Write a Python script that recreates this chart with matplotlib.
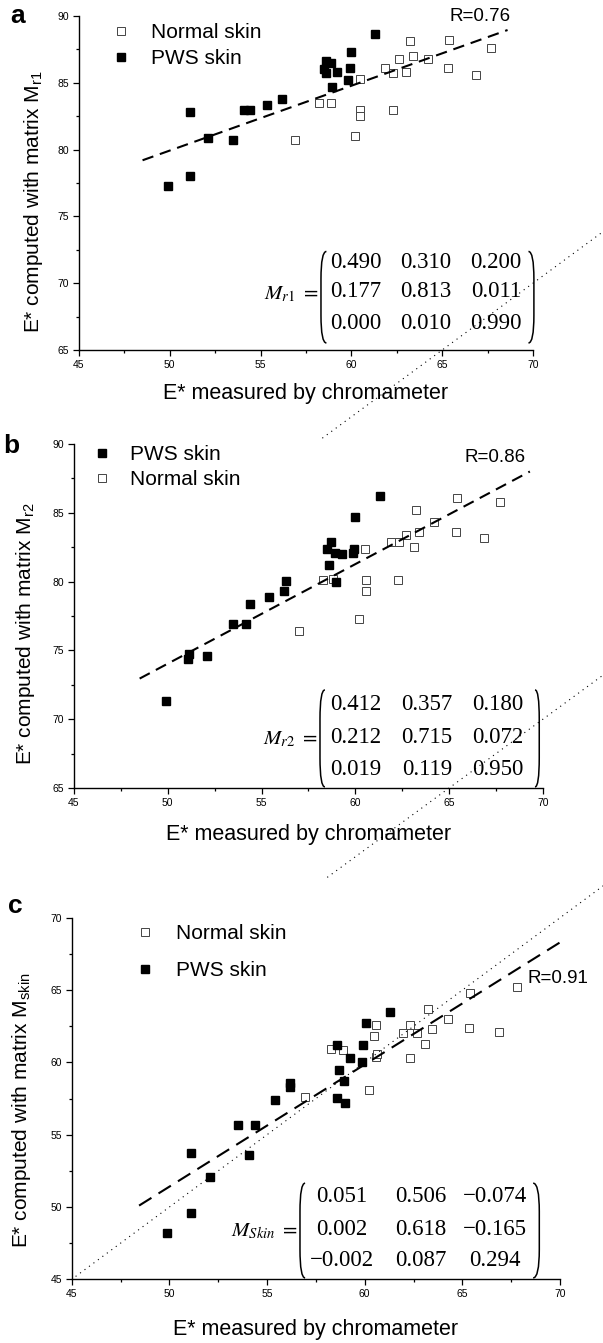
import numpy as np
import matplotlib.pyplot as plt
from matplotlib.path import Path
from matplotlib.patches import PathPatch
from matplotlib.ticker import MultipleLocator

plt.rcParams['font.family'] = ['Liberation Sans', 'DejaVu Sans']

# ---- panel a : matrix M_r1 ----
a_pws_x = [49.9, 51.1, 51.1, 52.1, 53.5, 54.1, 54.4, 55.35, 56.2, 61.3, 60.0, 58.6, 58.9, 58.5, 58.6, 59.2, 59.9, 59.8, 58.95]
a_pws_y = [77.3, 78.0, 82.8, 80.9, 80.7, 83.0, 83.0, 83.3, 83.8, 88.65, 87.3, 86.6, 86.5, 86.0, 85.7, 85.8, 86.1, 85.2, 84.7]
a_nor_x = [56.9, 58.2, 58.9, 60.5, 60.5, 60.5, 60.2, 61.85, 62.3, 62.3, 62.6, 63.0, 63.2, 63.4, 64.2, 65.4, 65.3, 66.85, 67.7]
a_nor_y = [80.7, 83.5, 83.5, 85.3, 83.0, 82.5, 81.0, 86.1, 83.0, 85.7, 86.8, 85.8, 88.15, 87.0, 86.8, 88.2, 86.1, 85.6, 87.6]
a_fit_x = [48.5, 68.6]
a_fit_y = [79.2, 88.95]
a_diag = [58.4, 80.0]
a_matrix = [['0.490', '0.310', '0.200'],
            ['0.177', '0.813', '0.011'],
            ['0.000', '0.010', '0.990']]

# ---- panel b : matrix M_r2 ----
b_pws_x = [49.9, 51.1, 51.15, 52.1, 53.5, 54.15, 54.4, 55.4, 56.2, 56.3, 61.3, 60.0, 58.7, 58.5, 58.9, 59.3, 59.85, 59.95, 58.6, 58.95]
b_pws_y = [71.3, 74.4, 74.7, 74.6, 76.9, 76.9, 78.4, 78.9, 79.3, 80.05, 86.2, 84.7, 82.85, 82.35, 82.1, 82.0, 82.05, 82.35, 81.2, 80.0]
b_nor_x = [57.0, 58.25, 58.8, 60.5, 60.55, 60.55, 60.2, 62.25, 61.9, 62.3, 62.7, 63.1, 63.4, 63.25, 64.2, 65.4, 65.35, 66.85, 67.7]
b_nor_y = [76.4, 80.1, 80.2, 82.35, 80.1, 79.3, 77.3, 80.1, 82.85, 82.85, 83.4, 82.5, 83.6, 85.2, 84.35, 86.1, 83.6, 83.15, 85.8]
b_fit_x = [48.5, 69.3]
b_fit_y = [72.95, 88.0]
b_diag = [58.5, 80.0]
b_matrix = [['0.412', '0.357', '0.180'],
            ['0.212', '0.715', '0.072'],
            ['0.019', '0.119', '0.950']]

# ---- panel c : matrix M_skin ----
c_pws_x = [49.9, 51.1, 51.1, 52.1, 53.5, 54.1, 54.4, 55.4, 56.2, 56.2, 61.3, 60.05, 58.6, 59.9, 59.25, 59.85, 58.7, 58.95, 58.6, 59.0]
c_pws_y = [48.2, 49.6, 53.75, 52.1, 55.7, 53.6, 55.65, 57.4, 58.6, 58.3, 63.5, 62.7, 61.2, 61.2, 60.3, 60.0, 59.5, 58.7, 57.55, 57.2]
c_nor_x = [56.95, 58.25, 58.9, 60.6, 60.5, 60.6, 60.65, 60.2, 62.3, 62.3, 61.95, 62.7, 63.1, 63.25, 63.45, 64.25, 65.4, 65.35, 66.9, 67.8]
c_nor_y = [57.6, 60.9, 60.85, 62.6, 61.8, 60.4, 60.6, 58.1, 62.6, 60.3, 62.0, 62.0, 61.3, 63.7, 62.3, 63.0, 64.8, 62.35, 62.1, 65.2]
c_fit_x = [48.45, 70.0]
c_fit_y = [50.1, 68.3]
c_diag = [45.2, 80.0]
c_matrix = [['0.051', '0.506', '\u22120.074'],
            ['0.002', '0.618', '\u22120.165'],
            ['\u22120.002', '0.087', '0.294']]


def paren(ax, xmid, xend, ytop, ybot):
    k = 0.3 * (ytop - ybot)
    verts = [(xend, ytop), (xmid, ytop), (xmid, ytop - k),
             (xmid, ybot + k), (xmid, ybot), (xend, ybot)]
    codes = [Path.MOVETO, Path.CURVE3, Path.CURVE3,
             Path.LINETO, Path.CURVE3, Path.CURVE3]
    ax.add_patch(PathPatch(Path(verts, codes), fill=False, lw=1.1,
                           color='black', transform=ax.transAxes, clip_on=False))


def matrix(ax, name, vals, cols, rows, lp, rp, ytop, ybot):
    for i, r in enumerate(rows):
        for j, c in enumerate(cols):
            ax.text(c, r, vals[i][j], transform=ax.transAxes, ha='center', va='center',
                    fontsize=16.5, family='Liberation Serif')
    paren(ax, lp[0], lp[1], ytop, ybot)
    paren(ax, rp[0], rp[1], ytop, ybot)
    ax.text(lp[0] - 0.004, rows[1] - 0.006, name, transform=ax.transAxes, ha='right',
            va='center', fontsize=15, math_fontfamily='stix')


def setup(ax, y0, y1):
    ax.set_xlim(45, 70)
    ax.set_ylim(y0, y1)
    for s in ['top', 'right']:
        ax.spines[s].set_visible(False)
    for s in ['left', 'bottom']:
        ax.spines[s].set_linewidth(1.0)
    ax.xaxis.set_major_locator(MultipleLocator(5))
    ax.xaxis.set_minor_locator(MultipleLocator(2.5))
    ax.yaxis.set_major_locator(MultipleLocator(5))
    ax.yaxis.set_minor_locator(MultipleLocator(2.5))
    ax.tick_params(which='major', length=4, width=0.9, labelsize=7.5, pad=3)
    ax.tick_params(which='minor', length=2.5, width=0.9)
    ax.patch.set_alpha(0)


def scatter(ax, px, py, nx, ny, order):
    h = {}
    h['n'], = ax.plot(nx, ny, 's', ms=5.2, mfc='white', mec='#444444', mew=0.7,
                      ls='none', label='Normal skin', zorder=2)
    h['p'], = ax.plot(px, py, 's', ms=5.4, color='black', ls='none',
                      label='PWS skin', zorder=3)
    return [h[k] for k in order]


fig = plt.figure(figsize=(6.03, 13.43), dpi=100)
axa = fig.add_axes([0.1310, 0.7394, 0.7529, 0.2487])
axb = fig.add_axes([0.1227, 0.4133, 0.7778, 0.2561])
axc = fig.add_axes([0.1189, 0.0474, 0.8098, 0.2692])

# panel a
setup(axa, 65, 90)
hs = scatter(axa, a_pws_x, a_pws_y, a_nor_x, a_nor_y, ['n', 'p'])
axa.plot(a_fit_x, a_fit_y, color='black', lw=1.5, dashes=(5.5, 3.3), zorder=4)
axa.plot(a_diag, a_diag, color='black', lw=0.8, dashes=(1, 4), clip_on=False)
axa.legend(handles=hs, loc='upper left', bbox_to_anchor=(0.069, 0.978), frameon=False,
           fontsize=15, borderpad=0, borderaxespad=0, handlelength=1.0,
           handletextpad=0.96, labelspacing=0.32, numpoints=1)
axa.text(65.4, 89.95, 'R=0.76', fontsize=13.5, ha='left', va='center')
axa.set_xlabel('E* measured by chromameter', fontsize=15.5)
axa.set_ylabel('E* computed with matrix M$_\\mathregular{r1}$', fontsize=15)
axa.xaxis.set_label_coords(0.5, -0.099)
axa.yaxis.set_label_coords(-0.075, 0.445)
matrix(axa, r'$M_{r1}\ =$', a_matrix, [0.610, 0.764, 0.918], [0.263, 0.174, 0.080],
       (0.533, 0.545), (1.002, 0.990), 0.295, 0.021)

# panel b
setup(axb, 65, 90)
hs = scatter(axb, b_pws_x, b_pws_y, b_nor_x, b_nor_y, ['p', 'n'])
axb.plot(b_fit_x, b_fit_y, color='black', lw=1.5, dashes=(5.5, 3.3), zorder=4)
axb.plot(b_diag, b_diag, color='black', lw=0.8, dashes=(1, 4), clip_on=False)
axb.legend(handles=hs, loc='upper left', bbox_to_anchor=(0.037, 0.997), frameon=False,
           fontsize=15, borderpad=0, borderaxespad=0, handlelength=1.0,
           handletextpad=0.86, labelspacing=0.29, numpoints=1)
axb.text(65.8, 89.0, 'R=0.86', fontsize=13.5, ha='left', va='center')
axb.set_xlabel('E* measured by chromameter', fontsize=15.5)
axb.set_ylabel('E* computed with matrix M$_\\mathregular{r2}$', fontsize=15)
axb.xaxis.set_label_coords(0.5, -0.105)
axb.yaxis.set_label_coords(-0.079, 0.449)
matrix(axb, r'$M_{r2}\ =$', b_matrix, [0.601, 0.753, 0.904], [0.244, 0.148, 0.055],
       (0.5245, 0.535), (0.992, 0.983), 0.285, 0.003)

# panel c
setup(axc, 45, 70)
hs = scatter(axc, c_pws_x, c_pws_y, c_nor_x, c_nor_y, ['n', 'p'])
axc.plot(c_fit_x, c_fit_y, color='black', lw=1.5, dashes=(7, 4), zorder=4)
axc.plot(c_diag, c_diag, color='black', lw=0.8, dashes=(1, 4), clip_on=False)
axc.legend(handles=hs, loc='upper left', bbox_to_anchor=(0.129, 0.982), frameon=False,
           fontsize=15, borderpad=0, borderaxespad=0, handlelength=1.0,
           handletextpad=0.97, labelspacing=0.85, numpoints=1)
axc.text(68.35, 65.8, 'R=0.91', fontsize=13.5, ha='left', va='center')
axc.set_xlabel('E* measured by chromameter', fontsize=15.5)
axc.set_ylabel('E* computed with matrix M$_\\mathregular{skin}$', fontsize=15)
axc.xaxis.set_label_coords(0.5, -0.11)
axc.yaxis.set_label_coords(-0.079, 0.468)
matrix(axc, r'$M_{Skin}\ =$', c_matrix, [0.553, 0.715, 0.867], [0.228, 0.139, 0.051],
       (0.4675, 0.478), (0.9576, 0.945), 0.266, 0.004)

# panel letters
fig.text(0.0166, 0.9826, 'a', fontsize=19, fontweight='bold', va='baseline')
fig.text(0.005, 0.6627, 'b', fontsize=19, fontweight='bold', va='baseline')
fig.text(0.013, 0.3202, 'c', fontsize=19, fontweight='bold', va='baseline')

fig.savefig('out.png', dpi=100)
